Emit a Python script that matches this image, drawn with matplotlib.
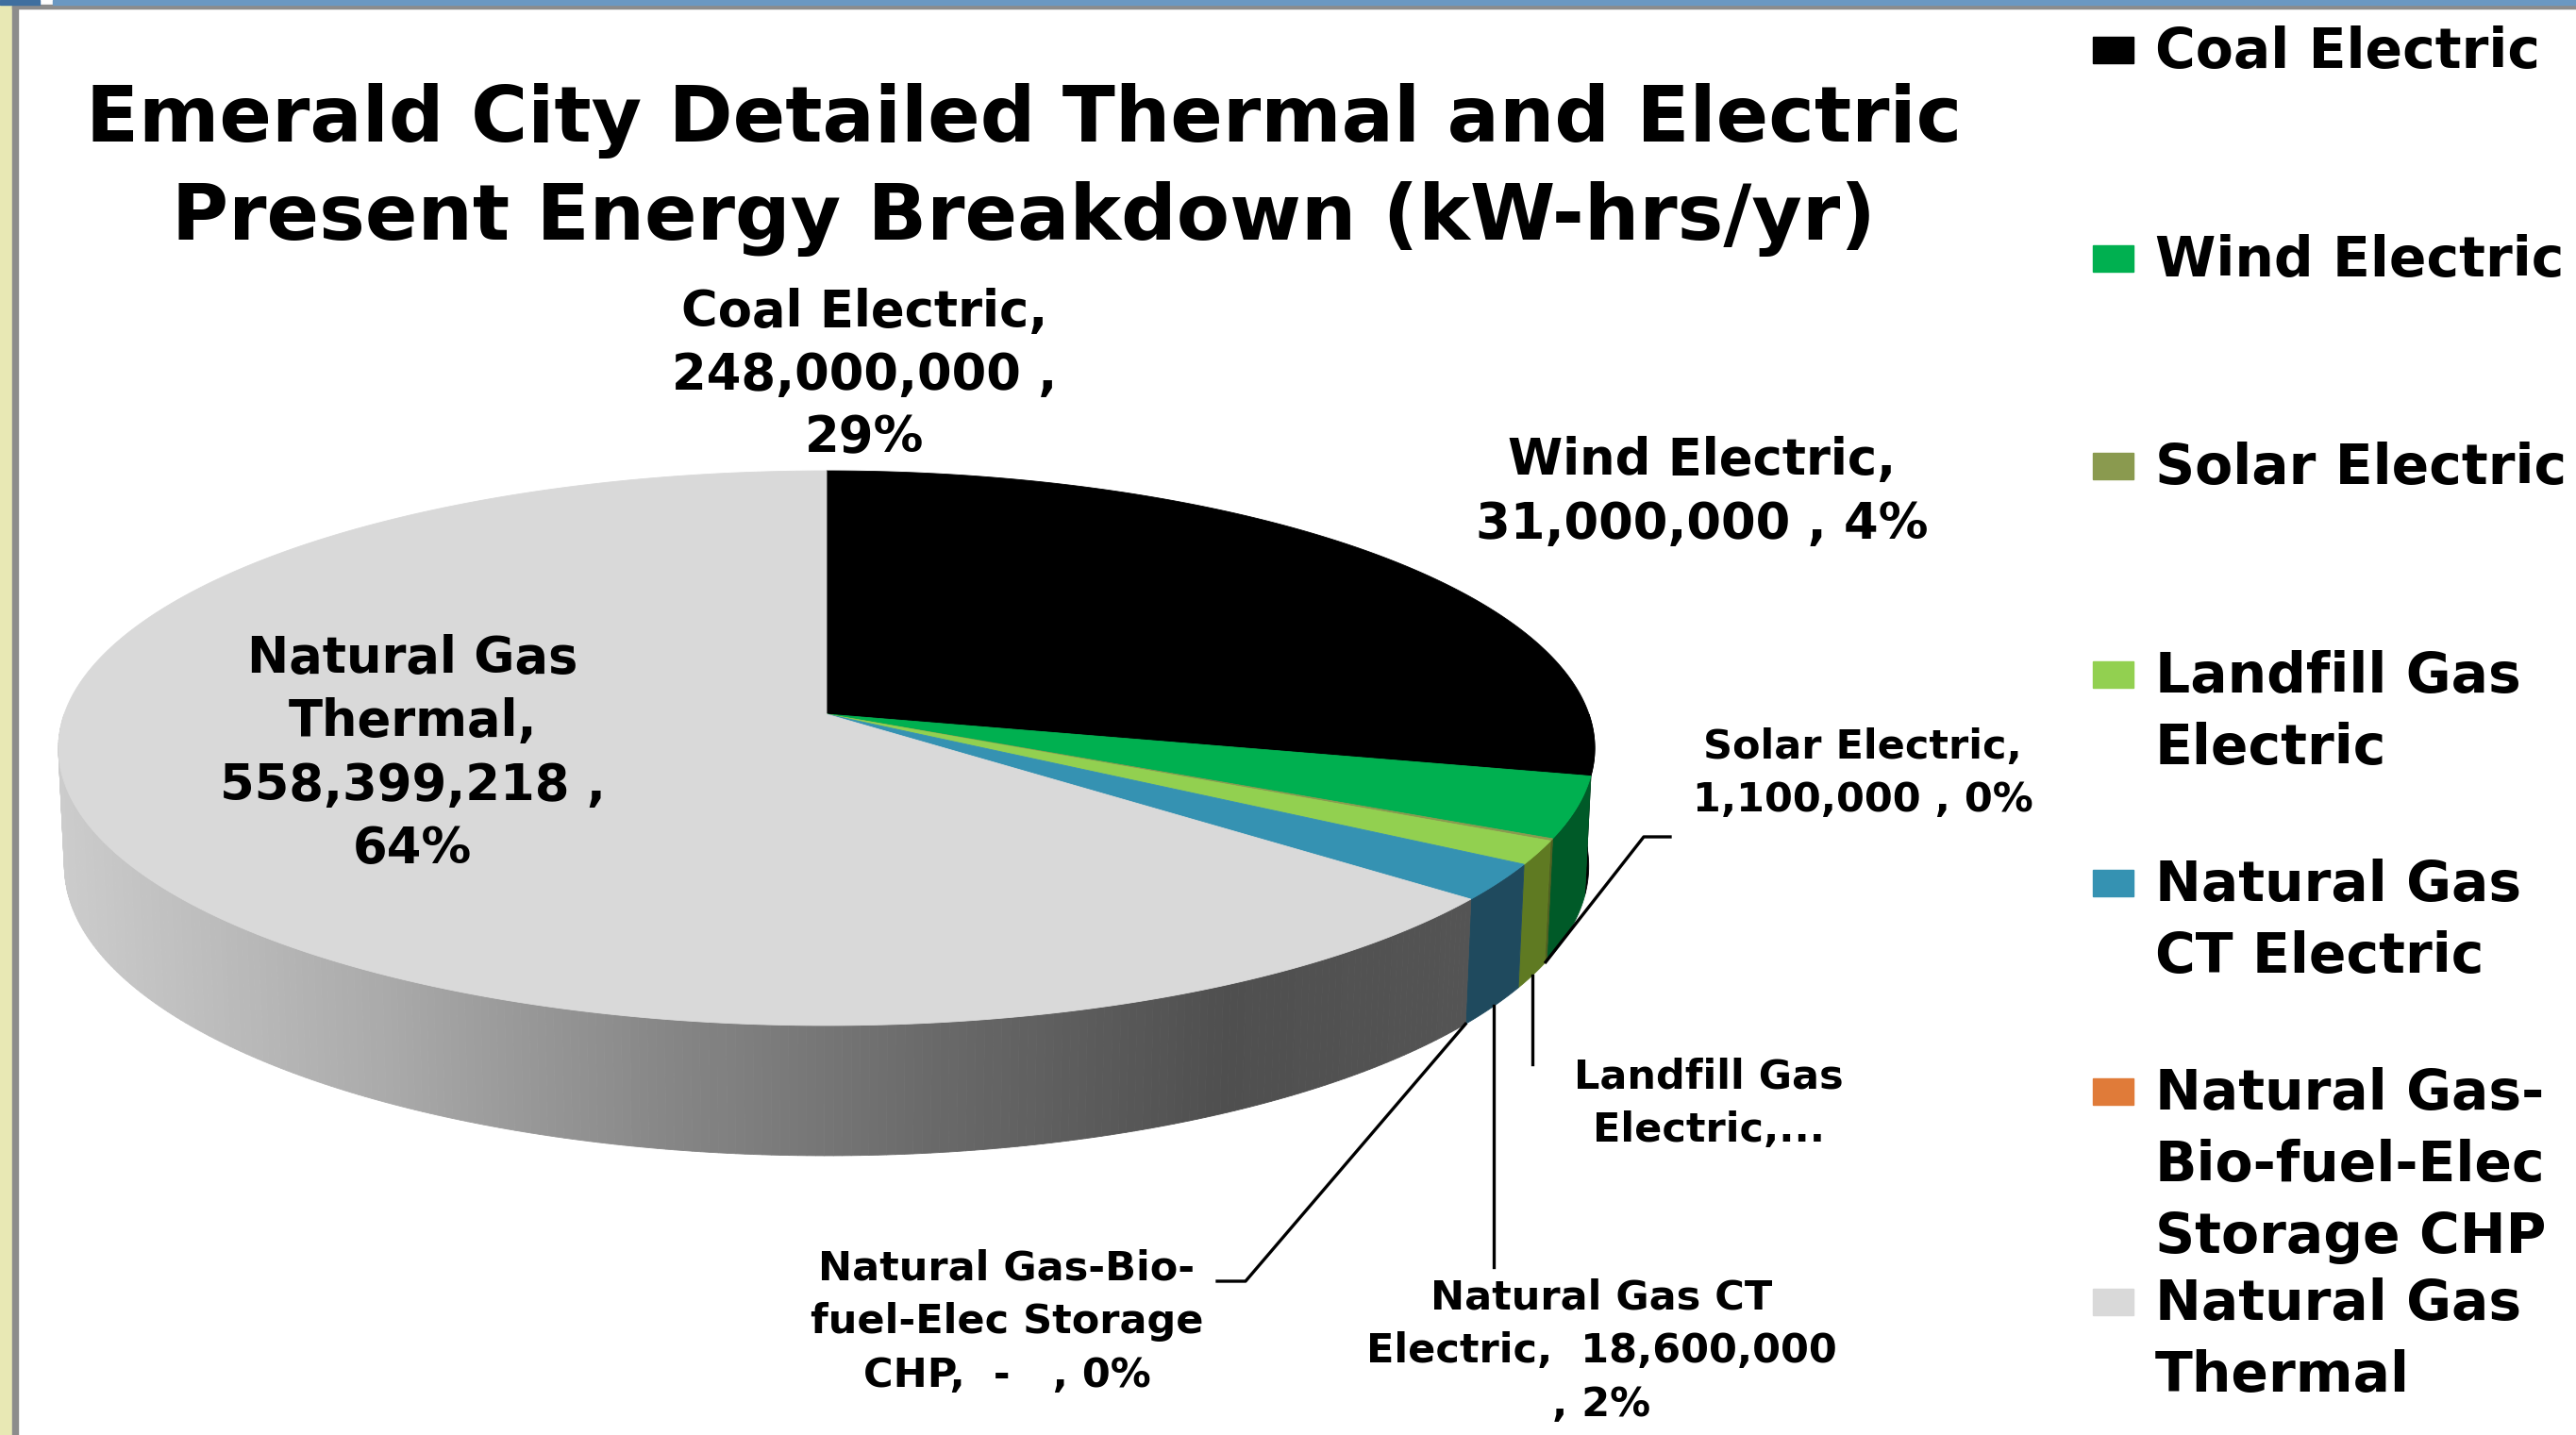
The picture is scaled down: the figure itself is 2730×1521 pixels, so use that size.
import numpy as np
import matplotlib
matplotlib.use("Agg")
import matplotlib.pyplot as plt
from matplotlib.patches import Polygon, Rectangle

plt.rcParams["font.family"] = ["DejaVu Sans"]
plt.rcParams["font.weight"] = "bold"

# data (kW-hrs/yr)
categories = [
    "Coal Electric",
    "Wind Electric",
    "Solar Electric",
    "Landfill Gas Electric",
    "Natural Gas CT Electric",
    "Natural Gas-Bio-fuel-Elec Storage CHP",
    "Natural Gas Thermal",
]
values = [248_000_000, 31_000_000, 1_100_000, 12_000_000, 18_600_000, 0, 558_399_218]
legend_labels = [
    "Coal Electric",
    "Wind Electric",
    "Solar Electric",
    "Landfill Gas\nElectric",
    "Natural Gas\nCT Electric",
    "Natural Gas-\nBio-fuel-Elec\nStorage CHP",
    "Natural Gas\nThermal",
]
data_labels = [
    "Coal Electric,\n248,000,000 ,\n29%",
    "Wind Electric,\n31,000,000 , 4%",
    "Solar Electric,\n1,100,000 , 0%",
    "Landfill Gas\nElectric,...",
    "Natural Gas CT\nElectric,  18,600,000\n, 2%",
    "Natural Gas-Bio-\nfuel-Elec Storage\nCHP,  -   , 0%",
    "Natural Gas\nThermal,\n558,399,218 ,\n64%",
]

top_colors = ["#000000", "#00b050", "#8a9a4f", "#92d050", "#3592b2", "#e07b39", "#d9d9d9"]
side_colors = ["#000000", "#005a28", "#4f5f20", "#5f7a22", "#1f4a5e", "#8a4518", None]

# camera / layout (pixel space of the output image)
W, H = 2730, 1521
CX, CY = 876, 757
SIN_A, COS_A = 0.3584, 0.9336
CAM_L, CAM_F = 7.628, 6163
DEPTH = 0.1654


def project(theta_deg, z):
    t = np.radians(theta_deg)
    x, y = np.cos(t), np.sin(t)
    d = CAM_L + y * COS_A - z * SIN_A
    X = CAM_F * x / d
    Y = CAM_F * (y * SIN_A + z * COS_A) / d
    return CX + X, CY - Y


def thermal_shade(px):
    xs = [62, 400, 700, 1000, 1300, 1560]
    gs = [0.80, 0.67, 0.53, 0.41, 0.31, 0.33]
    g = float(np.interp(px, xs, gs))
    return (g, g, g)


fig = plt.figure(figsize=(W / 100, H / 100), dpi=100)
ax = fig.add_axes([0, 0, 1, 1])
ax.set_xlim(0, W)
ax.set_ylim(H, 0)
ax.axis("off")

# slide frame bits
ax.add_patch(Rectangle((0, 0), 13, H, color="#e8e8b4", zorder=0))
ax.add_patch(Rectangle((13, 6), 6, H, color="#8c8c8c", zorder=0))
ax.add_patch(Rectangle((13, 5), W, 4, color="#8c8c8c", zorder=0))
ax.add_patch(Rectangle((56, 0), W, 5, color="#6b98c2", zorder=0))
ax.add_patch(Rectangle((0, 0), 42, 5, color="#3f6f9f", zorder=0))

total = float(sum(values))
fracs = np.array(values) / total
bounds = 90 - 360 * np.concatenate([[0], np.cumsum(fracs)])

# side walls (front half only)
for i, (a, b) in enumerate(zip(bounds[:-1], bounds[1:])):
    if values[i] == 0:
        continue
    hi, lo = min(a, 0.0), max(b, -180.0)
    if hi <= lo:
        continue
    if side_colors[i] is None:
        steps = np.linspace(hi, lo, 240)
        for t1, t2 in zip(steps[:-1], steps[1:]):
            tt = np.array([t1, t2])
            xt, yt = project(tt, 0.0)
            xb, yb = project(tt[::-1], -DEPTH)
            ax.add_patch(Polygon(np.column_stack([np.r_[xt, xb], np.r_[yt, yb]]),
                                 closed=True, color=thermal_shade(xt.mean()),
                                 lw=0.6, zorder=2))
    else:
        tt = np.linspace(hi, lo, 60)
        xt, yt = project(tt, 0.0)
        xb, yb = project(tt[::-1], -DEPTH)
        ax.add_patch(Polygon(np.column_stack([np.r_[xt, xb], np.r_[yt, yb]]),
                             closed=True, color=side_colors[i], lw=0.6, zorder=2))

# top faces
for i, (a, b) in enumerate(zip(bounds[:-1], bounds[1:])):
    if values[i] == 0:
        continue
    tt = np.linspace(a, b, max(int(abs(a - b) * 2), 4))
    xt, yt = project(tt, 0.0)
    pts = np.column_stack([np.r_[CX, xt], np.r_[CY, yt]])
    ax.add_patch(Polygon(pts, closed=True, color=top_colors[i], lw=0.6, zorder=3))

# data labels: x, y, fontsize, linespacing
big = 38
small = 31
label_pos = {
    0: (916, 398, big, 1.36),
    1: (1804, 522, big, 1.38),
    2: (1974, 820, small, 1.43),
    3: (1811, 1170, small, 1.43),
    4: (1697, 1432, small, 1.45),
    5: (1067, 1401, small, 1.45),
    6: (437, 799, big, 1.38),
}
for i, (x, y, fs, ls) in label_pos.items():
    ax.text(x, y, data_labels[i], ha="center", va="center", fontsize=fs,
            fontweight="bold", linespacing=ls, color="#000000", zorder=5)

# leader lines from the bottom rim of the small slices
mids = (bounds[:-1] + bounds[1:]) / 2
line_kw = dict(color="#000000", lw=2.4, zorder=4)

sx, sy = project(mids[2], -DEPTH)
ax.plot([1770, 1742, sx], [887, 887, sy], **line_kw)

lx, ly = project(mids[3], -DEPTH)
ax.plot([lx, lx], [ly, 1128], **line_kw)

cx_, cy_ = project(mids[4], -DEPTH)
ax.plot([cx_, cx_], [cy_, 1343], **line_kw)

hx, hy = project(mids[5], -DEPTH)
ax.plot([1290, 1320, hx], [1358, 1358, hy], **line_kw)

# title
ax.text(1085, 180, "Emerald City Detailed Thermal and Electric\nPresent Energy Breakdown (kW-hrs/yr)",
        ha="center", va="center", fontsize=59, fontweight="bold", linespacing=1.4, zorder=5)

# legend
legend_rows = [52, 273, 493, 714, 935, 1156, 1379]
for lab, col, y in zip(legend_labels, top_colors, legend_rows):
    ax.add_patch(Rectangle((2218, y - 13), 43, 28, color=col, zorder=5))
    ax.text(2284, y - 25, lab, ha="left", va="top", fontsize=42,
            fontweight="bold", linespacing=1.42, zorder=5)

fig.savefig("out.png", dpi=100)
